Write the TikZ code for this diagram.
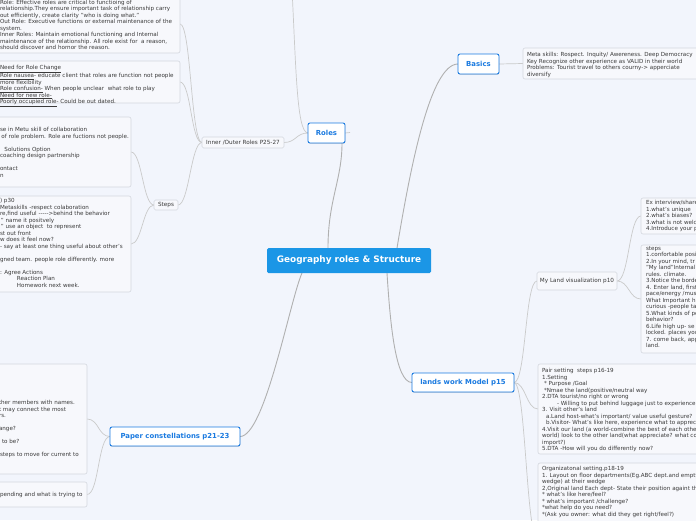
\documentclass[tikz,border=0pt]{standalone}
\usepackage{fontspec}
\setmainfont{DejaVu Sans}
\usetikzlibrary{shadows,backgrounds}
\definecolor{bgc}{HTML}{F2F5FC}
\definecolor{boxfill}{HTML}{F7F8FC}
\definecolor{boxline}{HTML}{D3D7DE}
\definecolor{mainblue}{HTML}{1B96E6}
\definecolor{nodeblue}{HTML}{1A7AE0}
\definecolor{txtgray}{HTML}{3A3A3A}
\definecolor{connc}{HTML}{B0B0B0}
\definecolor{subconnc}{HTML}{CACACA}
\tikzset{
 every node/.style={inner sep=0pt, outer sep=0pt},
 centralnode/.style={fill=mainblue, rounded corners=1.5pt, text=white, font=\fontsize{8.9}{10}\selectfont\bfseries, anchor=north west},
 mainnode/.style={fill=white, draw=nodeblue, line width=0.9pt, rounded corners=2pt, text=nodeblue, font=\fontsize{6.9}{8}\selectfont\bfseries, anchor=north west, drop shadow={shadow xshift=0.3pt, shadow yshift=-0.8pt, opacity=0.25}},
 subnode/.style={fill=boxfill, draw=boxline, line width=0.6pt, rounded corners=1.5pt, text=txtgray, font=\fontsize{5.7}{6.5}\selectfont, anchor=north west},
 notebox/.style={fill=boxfill, draw=boxline, line width=0.6pt, rounded corners=2pt, anchor=north west},
 notetext/.style={text=txtgray, font=\fontsize{5.6}{6.5}\selectfont, align=left, anchor=north west},
 mainconn/.style={draw=connc, line width=0.9pt},
 subconn/.style={draw=subconnc, line width=0.7pt},
}
\begin{document}
\begin{tikzpicture}[x=1pt,y=-1pt]
\useasboundingbox (0,0) rectangle (696,520);
% ---------- main nodes
\node[centralnode, minimum width=164pt, minimum height=25pt] (central) at (267,248) {Geography roles \& Structure};
\node[mainnode, minimum width=37pt, minimum height=20pt] (roles) at (308,123) {Roles};
\node[mainnode, minimum width=41pt, minimum height=20pt] (basics) at (458,54) {Basics};
\node[mainnode, minimum width=102pt, minimum height=19pt] (lands) at (412,373) {lands work Model p15};
\node[mainnode, minimum width=130pt, minimum height=19pt] (paper) at (110,427) {Paper constellations p21-23};
% ---------- sub nodes
\node[subnode, minimum width=82pt, minimum height=11pt] (inout) at (202,137) {Inner /Outer Roles P25-27};
\node[subnode, minimum width=24pt, minimum height=10pt] (steps) at (154,200) {Steps};
\node[subnode, minimum width=80pt, minimum height=18pt] (myland) at (537,272) {My Land visualization p10};
% ---------- note boxes
\node[notebox, minimum width=190pt, minimum height=58pt] (b1) at (-10,-5) {};
\node[notebox, minimum width=190pt, minimum height=42pt] (b2) at (-10,61) {};
\node[notebox, minimum width=141pt, minimum height=70pt] (b3) at (-10,117) {};
\node[notebox, minimum width=141pt, minimum height=96pt] (b4) at (-10,196) {};
\node[notebox, minimum width=97pt, minimum height=110pt] (b9) at (-10,364) {};
\node[notebox, minimum width=97pt, minimum height=25pt] (b10) at (-10,482) {};
\node[notebox, minimum width=190pt, minimum height=31pt] (bb) at (523,48) {};
\node[notebox, minimum width=190pt, minimum height=90pt] (b5) at (538,364) {};
\node[notebox, minimum width=190pt, minimum height=154pt] (b6) at (538,463) {};
\node[notebox, minimum width=80pt, minimum height=36pt] (b7) at (641,198) {};
\node[notebox, minimum width=80pt, minimum height=108pt] (b8) at (641,245) {};
% ---------- texts
\node[notetext] (t1) at (0,0) {Role: Effective roles are critical to functioing of\\
relationship.They ensure important task of relationship carry\\
out efficiently, create clarity "who is doing what."\\
Out Role: Executive functions or external maintenance of the\\
system.\\
Inner Roles: Maintain emotional functioning and Internal\\
maintenance of the relationship. All role exist for\ \ a reason,\\
should discover and hornor the reason.};
\node[notetext] (t2) at (0,64.9) {\underline{Need for Role Change}\\
\underline{Role nausea}- educate client that roles are function not people\\
more flexibility\\
\underline{Role confusion-} When people unclear\ \ what role to play\\
\underline{Need for new role-}\\
\underline{Poorly occupied role}- Could be out dated.};
\node[notetext] (t3) at (0,127.5) {se in Metu skill of collaboration\\
\hspace*{1.5pt}of role problem. Role are fuctions not people.\\
\mbox{}\\
\hspace*{4.5pt}Solutions Option\\
coaching design partnership\\
\mbox{}\\
ontact\\
n};
\node[notetext] (t4) at (0,198.5) {) p30\\
Metaskills -respect colaboration\\
re,find useful -{}-{}-{}-{}->behind the behavior\\
\hspace*{1pt}" name it positvely\\
\hspace*{1pt}" use an object\ \ to represent\\
st out front\\
w does it feel now?\\
- say at least one thing useful about other's\\
\mbox{}\\
gned team. people role differently. more\\
\mbox{}\\
: Agree Actions\\
\hspace*{17pt}Reaction Plan\\
\hspace*{17pt}Homework next week.};
\node[notetext] (t9) at (-1,400.5) {ther members with names.\\
t may connect the most\\
rs.\\
\mbox{}\\
ange?\\
\mbox{}\\
\hspace*{3pt}to be?\\
\mbox{}\\
\hspace*{1pt}steps to move for current to};
\node[notetext] (t10) at (0,492.5) {pending and what is trying to};
\node[notetext] (tb) at (527,52.5) {Meta skills: Rospect. Inquity/ Awereness. Deep Democracy\\
Key Recognize other experience as VALID in their world\\
Problems: Tourist travel to others courny-> apperciate\\
diversify};
\node[notetext] (t5) at (542,368.5) {Pair setting\ \ steps p16-19\\
1.Setting\\
\hspace*{2pt}* Purpose /Goal\\
\hspace*{2pt}*Nmae the land(positive/neutral way\\
2.DTA tourist/no right or wrong\\
\hspace*{15pt}- Willing to put behind luggage just to experience\\
3. Visit other's land\\
\hspace*{4pt}a.Land host-what's important/ value useful gesture?\\
\hspace*{4pt}b.Visitor- What's like here, experience what to apprecia\\
4.Visit our land (a world-combine the best of each other\\
world) look to the other land(what appreciate? what co\\
import?)\\
5.DTA -How will you do differently now?};
\node[notetext] (t6) at (542,466.5) {Organizatonal setting.p18-19\\
1. Layout on floor departments(Eg.ABC dept.and empty\\
wedge) at their wedge\\
2,Original land Each dept- State their position againt th\\
* what's like here/feel?\\
* what's important /challenge?\\
*what help do you need?\\
*(Ask you owner: what did they get right/feel?)};
\node[notetext] (t7) at (646,200.5) {Ex interview/share\\
1.what's unique\\
2.what's biases?\\
3.what is not welc\\
4.Introduce your p};
\node[notetext] (t8) at (646,246.5) {steps\\
1.confortable posi\\
2.In your mind, tr\\
"My land"Internal\\
rules. climate.\\
3.Notice the borde\\
4. Enter land, first\\
pace/energy /mus\\
What Important h\\
curious -people ta\\
5.What kinds of pe\\
behavior?\\
6.Life high up- se\\
locked. places you\\
7. come back, app\\
land.};
% ---------- free ends
\coordinate (rolesup) at (291,-30);
\coordinate (rstub) at (350,132.5);
% ---------- connectors (behind)
\begin{scope}[on background layer]
\fill[bgc] (0,0) rectangle (696,520);
\draw[mainconn] ([xshift=61pt]central.north west) .. controls +(0,-48) and +(0,37) .. ([xshift=-3pt]roles.south east);
\draw[mainconn] ([xshift=130pt]central.north west) .. controls +(13,-78) and +(-28,0) .. (basics.west);
\draw[mainconn] ([xshift=120pt]central.south west) .. controls +(3,47) and +(-17,0) .. (lands.west);
\draw[mainconn] ([xshift=35pt]central.south west) .. controls +(-12,27) and +(25,0) .. (paper.east);
\draw[subconn] (roles.west) .. controls +(-12,0) and +(12,0) .. (inout.east);
\draw[subconn] (roles.west) .. controls +(-12,0) and +(5,90) .. (rolesup);
\draw[subconn] (roles.east) -- (rstub);
\draw[subconn] (inout.west) .. controls +(-11,0) and +(11,0) .. (b1.east);
\draw[subconn] (inout.west) .. controls +(-11,0) and +(11,0) .. (b2.east);
\draw[subconn] (inout.west) .. controls +(-11,0) and +(11,0) .. (steps.east);
\draw[subconn] (steps.west) .. controls +(-11,0) and +(11,0) .. (b3.east);
\draw[subconn] (steps.west) .. controls +(-11,0) and +(11,0) .. (b4.east);
\draw[subconn] (basics.east) -- (bb.west);
\draw[subconn] (lands.east) .. controls +(12,0) and +(-12,0) .. (myland.west);
\draw[subconn] (lands.east) .. controls +(12,0) and +(-12,0) .. (b5.west);
\draw[subconn] (lands.east) .. controls +(12,0) and +(-12,0) .. (b6.west);
\draw[subconn] (myland.east) .. controls +(12,0) and +(-12,0) .. (b7.west);
\draw[subconn] (myland.east) .. controls +(12,0) and +(-12,0) .. (b8.west);
\draw[subconn] (paper.west) .. controls +(-12,0) and +(12,0) .. (b9.east);
\draw[subconn] (paper.west) .. controls +(-12,0) and +(12,0) .. (b10.east);
\end{scope}
\end{tikzpicture}
\end{document}
